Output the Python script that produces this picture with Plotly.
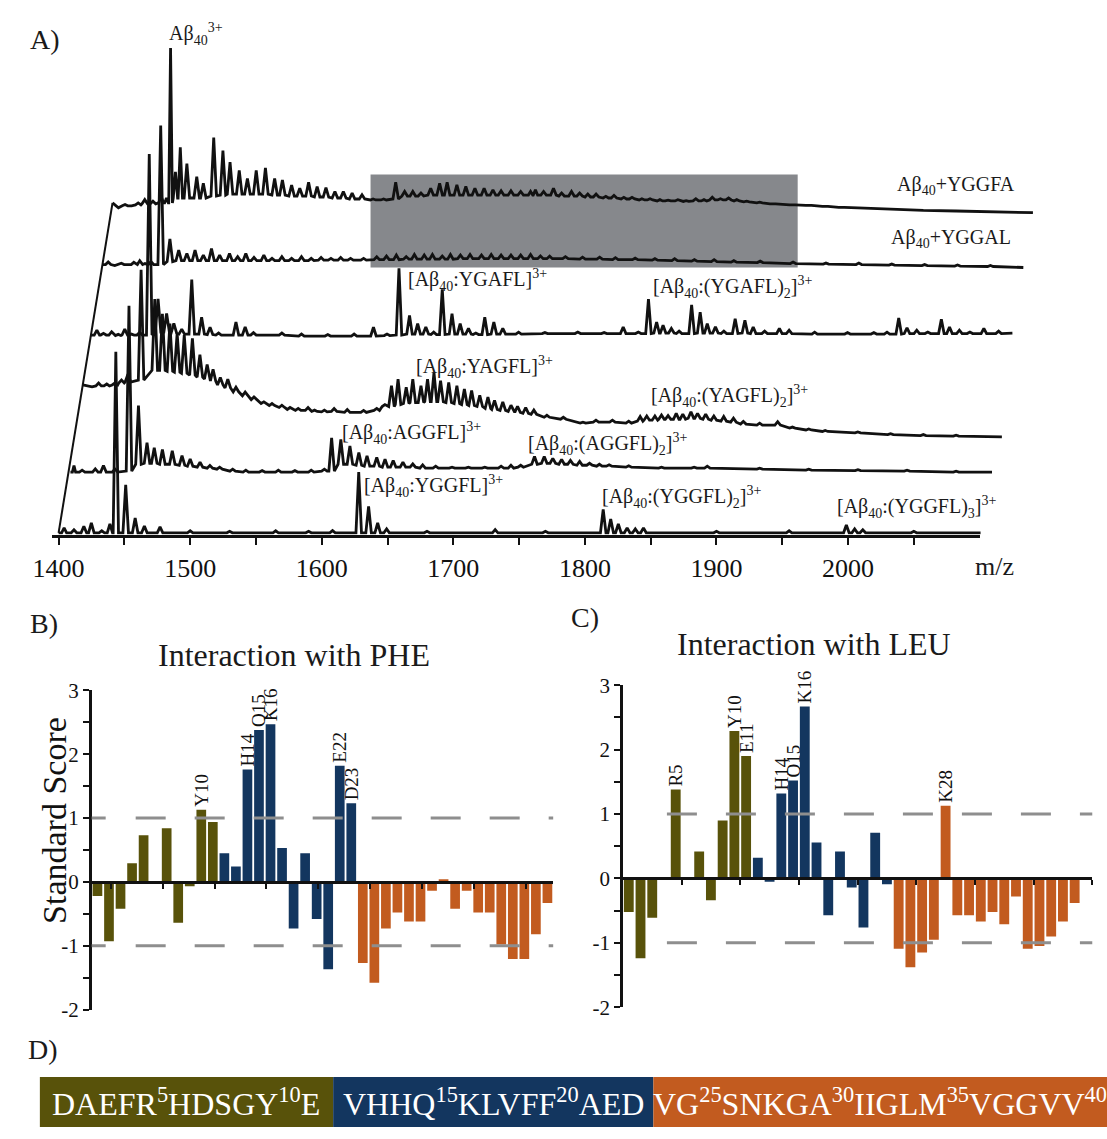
import plotly.graph_objects as go

W, H = 1107, 1139
FONT = "Liberation Serif"

# ------------------------------------------------------------------
# Panel A data: mass spectra (true m/z, baseline level, peak apex level)
# intensities in arbitrary units (relative to each trace's start level)
# ------------------------------------------------------------------
SPECTRA = ["YGGFL", "AGGFL", "YAGFL", "YGAFL", "YGGAL", "YGGFA"]

YGGFL_MZ = [1400, 1404.2, 1411.7, 1419.2, 1424.9, 1432.8, 1439.0, 1443.5, 1451.0, 1458.2, 1465.2,
            1477.1, 1500, 1530, 1565, 1590, 1608.2, 1628.1, 1635.6, 1642.5, 1649.3, 1680, 1731.8,
            1770, 1813.9, 1819.6, 1825.4, 1832.1, 1838.3, 1844.5, 1900, 1955.2, 1998.7, 2005.0,
            2011.2, 2050, 2100.7]
YGGFL_BASE = [0] * 37
YGGFL_TOP = [0, 5, 3, 6.7, 10, 2, 9, 185, 49, 15, 7, 6, 2, 1.5, 2, 1.5, 2.3, 62, 27, 10, 4, 1.5,
             3.3, 1.5, 24, 14, 9, 5, 4, 5, 1.5, 2, 8, 4, 3, 1.5, 0]

AGGFL_MZ = [1400, 1402.7, 1408.9, 1418.9, 1425.1, 1433.8, 1444.5, 1451.7, 1458.2, 1463.7, 1469.9,
            1477.4, 1484.8, 1491.0, 1498.5, 1506.0, 1513.4, 1523.3, 1533.3, 1545.7, 1558.0, 1570.6,
            1583.0, 1593.0, 1598.5, 1605.5, 1612.4, 1619.2, 1625.4, 1632.8, 1639.1, 1645.3, 1652.7,
            1660.2, 1667.7, 1677.6, 1690.0, 1702.4, 1714.9, 1727.3, 1734.8, 1742.2, 1752.7, 1760.1,
            1766.6, 1773.3, 1780.0, 1787.0, 1794.5, 1802.0, 1809.4, 1824.3, 1849.2, 1874.0, 1884.0,
            1923.8, 1961.1, 1998.5, 2035.8, 2073.1, 2100.4]
AGGFL_BASE = [0, 0, 0, 0, 0, 0, 1, 8, 9, 9, 8, 8, 7, 6, 5, 4, 3, 1, 0, 0, 0, 0, 0, 1, 1, 8, 8, 7,
              6, 6, 5, 5, 5, 5, 4, 4, 4, 4, 4, 4, 4, 5, 8, 9, 9, 8, 8, 7, 7, 6, 6, 5, 4, 4, 4, 3,
              2, 1.5, 1, 0, 0]
AGGFL_TOP = [0, 6.7, 2, 3.3, 6.7, 3, 170, 68, 30, 25, 23, 21.7, 16.7, 13.3, 10, 6.7, 5, 3, 2, 1.5,
             2, 1.5, 2, 3, 35, 33.3, 26.7, 20, 16.7, 15, 13.3, 11.7, 10, 8.3, 7.3, 6, 5, 5, 5, 6,
             7, 7, 16, 16, 14, 13, 12, 11, 9, 8, 7.5, 6.5, 5, 5, 6, 4, 3, 2.5, 2, 1, 0]

YAGFL_MZ = [1400, 1407.0, 1412.0, 1418.2, 1424.4, 1429.4, 1434.3, 1444.3, 1454.7, 1460.5, 1466.2,
            1471.7, 1477.1, 1483.3, 1489.0, 1494.5, 1499.0, 1504.5, 1510.2, 1516.4, 1523.4, 1530.1,
            1537.6, 1543.8, 1551.3, 1557.5, 1563.7, 1571.2, 1576.1, 1583.6, 1591.0, 1601.0, 1613.4,
            1623.4, 1629.6, 1634.6, 1639.6, 1645.8, 1650.8, 1657.0, 1662.0, 1666.9, 1671.9, 1678.1,
            1684.3, 1690.0, 1695.5, 1701.7, 1707.9, 1712.9, 1719.2, 1725.4, 1730.4, 1736.6, 1742.8,
            1752.7, 1765.2, 1780.1, 1790.0, 1802.5, 1814.9, 1823.6, 1828.6, 1834.8, 1839.8, 1844.8,
            1851.0, 1856.0, 1862.2, 1867.2, 1873.4, 1879.6, 1887.1, 1894.5, 1902.0, 1914.4, 1928.1,
            1939.3, 1951.7, 1964.2, 1989.0, 2013.9, 2038.8, 2063.7, 2098.5]
YAGFL_BASE = [0, -2, -1, -1, 0, 2, 3, 5, 15, 15, 14, 13, 12, 10, 8, 6, 4, 0, -3, -7, -11, -15, -19,
              -21, -23, -25, -26, -26, -27, -27.5, -27, -28, -28, -26, -22, -22, -20, -19, -18,
              -18, -17, -17, -17, -18, -19, -20, -21, -22, -24, -25, -26, -27, -28, -29, -30, -33,
              -35, -39, -38, -38, -39, -37, -36, -36, -35, -35, -35, -35, -34, -34, -35, -36, -37,
              -38, -40, -41, -41, -44, -46, -47.5, -49, -50.7, -51.7, -52.3, -53]
YAGFL_TOP = [0, -2, 2, 1, 2, 5, 11, 117.7, 87.7, 72.7, 62.7, 52.7, 51, 47.7, 31, 21, 16, 7.7, 6,
             -2.3, -7.3, -12.3, -17.3, -19, -20.7, -23, -24, -23, -25.7, -25.7, -24, -25, -26, -24,
             -20, -0.7, 6, -2.3, 6, -0.7, 6, 12.7, 4.3, 2.7, -0.7, -4, -5.7, -10.7, -12.3, -15.7,
             -17.3, -20.7, -21.7, -23, -25.7, -31, -33, -38, -36, -36, -37, -32.3, -31.7, -31.7,
             -30.7, -31.3, -29, -29.7, -27.3, -29, -29.7, -31.7, -32.3, -34, -37.3, -39, -37.5,
             -43, -45, -46.5, -48, -49.7, -50.7, -51.3, -53]

YGAFL_MZ = [1400, 1404.5, 1409.5, 1415.7, 1420.7, 1425.7, 1430.7, 1437, 1444.3, 1451.0, 1457.5,
            1463.0, 1469.0, 1476.6, 1484.1, 1490.5, 1497, 1510.2, 1517.2, 1523.5, 1545.1, 1560, 1580,
            1600, 1614.7, 1625, 1634.1, 1642.1, 1648.3, 1654.5, 1660.5, 1667.0, 1674.4, 1680.6,
            1686.9, 1692.5, 1699.3, 1706.2, 1713.0, 1725, 1745, 1770, 1790, 1804.5, 1816, 1823.7,
            1829.9, 1834.8, 1841.1, 1847, 1856.5, 1863.0, 1868.4, 1874.6, 1881, 1889.6, 1897.0,
            1903.3, 1912, 1923.2, 1930.6, 1950, 1975, 1995, 2005, 2013.9, 2020.2, 2027.6, 2036,
            2046.3, 2052.5, 2060.0, 2068, 2078.6, 2089.8, 2100.3]
YGAFL_BASE = [0, 0, 0, 0, -0.5, 0, 0, 0, 0, 3, 3, 2, 1, 1, 1, 0.5, 0, 0, 0, 0, 0, -1, -1, -1, -1,
              -0.5, 0, 1, 1, 1, 0.5, 0.5, 1, 1, 1, 0.5, 0.5, 1, 1, 1, 1.5, 1.5, 1.5, 1.5, 1.5, 1.5,
              2, 2, 2, 1.5, 1.5, 2, 2, 2, 1.5, 1.5, 2, 1.5, 1.5, 1.5, 1.5, 1, 1, 1, 1, 1, 1.5, 1.5,
              1.5, 1.5, 1.5, 1.5, 1.5, 1.5, 1.5, 2]
YGAFL_TOP = [0, 5, 1.7, 3.3, 0.7, 6, 1, 2.7, 185, 37, 22, 12, 6, 56.7, 18.3, 8, 2, 13.3, 8.3, 2.5,
             2, 1, 0.5, 1, 8, 1, 68.3, 20, 11.7, 8.3, 3, 46.7, 21.7, 11.7, 6.7, 2, 18.3, 13.3, 6.7,
             3, 2.5, 3, 2.5, 8.3, 3, 36.7, 13.3, 10, 6.7, 4, 30.7, 23.3, 11.7, 8.3, 4, 16.7, 15,
             8.3, 4, 6.7, 5, 3, 2.5, 2.5, 3, 17.3, 7.3, 5, 3, 16, 8.3, 5, 3, 6.7, 4, 2]

YGGAL_MZ = [1400, 1404.5, 1409.5, 1414.5, 1419.5, 1424, 1428.5, 1432.5, 1437, 1444.4, 1451.4,
            1458.1, 1464.3, 1470.5, 1476.8, 1483.0, 1489.2, 1496.7, 1502.9, 1509.1, 1515.3, 1522.8,
            1529.0, 1536.5, 1543.9, 1551.4, 1558.8, 1566.3, 1573.8, 1581.2, 1588.7, 1598.6, 1608.6,
            1616.0, 1623.5, 1631.0, 1637.2, 1644.7, 1650.9, 1658.4, 1664.6, 1672.2, 1679.5, 1688.2,
            1695.6, 1703.1, 1710.6, 1718.0, 1725.5, 1733.0, 1740, 1752, 1765, 1778, 1790, 1805,
            1820, 1835, 1850, 1865, 1880, 1900, 1925, 1950, 1975, 2000, 2025, 2050, 2075, 2100]
YGGAL_BASE = [0, 0, -1, 0, 0, 0, 0, 0, 0, 0, 3, 4, 4, 4, 4, 4, 4, 4, 4, 4, 4, 4, 4, 4, 4, 4, 4,
              4.5, 4.5, 4.5, 4.5, 4.5, 5, 5, 5, 5.5, 5.5, 5.5, 5.5, 5.5, 5.5, 6, 6, 6, 6, 6, 6, 6,
              6, 6, 6, 6, 5.5, 5.5, 5, 5, 4.5, 4, 3.5, 3, 2.5, 2, 1, 0.5, 0, -0.5, -1, -1.5, -2,
              -3]
YGGAL_TOP = [0, 2.7, -1, 1.3, 0.7, 2.3, 4, 1, 3, 142, 26.3, 14.7, 11.3, 14.7, 9.7, 16.3, 9.7, 11.3,
             8, 11.3, 7.3, 9.7, 6.3, 8, 6.3, 8, 6.3, 7.3, 6.3, 7.3, 6.3, 6.3, 8, 8.7, 9.7, 8, 10.3,
             9.7, 10.3, 8.7, 10.3, 9.7, 10.3, 9.7, 10.3, 9.7, 9.7, 9.7, 10.3, 8.7, 8.5, 8, 7.5, 7.5,
             7, 6.5, 6, 6, 5, 5, 4, 3.5, 2.5, 1.5, 1.5, 0.5, 0, -0.5, -1, -3]

YGGFA_MZ = [1400, 1404.5, 1409.5, 1414.5, 1419.5, 1424.5, 1430.7, 1436.9, 1441, 1444.1, 1447.8,
            1451.5, 1456.5, 1464.0, 1469.0, 1476.9, 1483.9, 1489.3, 1496.3, 1502.5, 1509.2, 1516.2,
            1523.2, 1529.1, 1536.1, 1542.3, 1549.0, 1555.5, 1562.2, 1569.0, 1575.4, 1582.1, 1589.6,
            1598, 1606, 1615.2, 1622.0, 1628.2, 1634.4, 1641.8, 1648.6, 1654.3, 1661.7, 1668.5,
            1675.4, 1682.4, 1689.1, 1695.3, 1702.8, 1710.2, 1717.7, 1721.4, 1727.6, 1735.1, 1741.3,
            1748.8, 1755.0, 1761.2, 1767.5, 1774.9, 1781.1, 1788.6, 1794.8, 1802.3, 1808.5, 1816.0,
            1822.2, 1829.6, 1835.9, 1843.3, 1849.5, 1855.8, 1862.0, 1868.2, 1874.4, 1881.9, 1891.8,
            1901.8, 1916.7, 1929.1, 1941.6, 1954.0, 1966.5, 1991.3, 2016.2, 2041.1, 2066.0, 2099.5]
YGGFA_BASE = [0, -5, -3, -3, -2, -1, -1, 0, 0, 0, 5, 5, 5, 5, 5, 7, 8, 9, 9, 9, 9, 9, 8, 8, 7, 7,
              7, 6, 6, 5, 5, 4, 4, 3, 3, 4, 7, 7, 7, 8, 8, 8, 8, 8, 8, 8, 8, 8, 8, 8, 8, 8, 8, 8, 7,
              7, 7, 6, 6, 5, 5, 4, 4, 3, 3, 2, 2, 2, 1.5, 2, 2, 3, 3, 3, 2, 1, 0, -1, -2, -2.5,
              -3.5, -4.5, -5, -6.7, -7.7, -8.3, -9.3, -10]
YGGFA_TOP = [0, -5, -1.7, -3, 0, 3.3, 1.7, 6.7, 5, 158.3, 31.7, 56.7, 40, 26.7, 20, 66.7, 53.3,
             41.7, 33.3, 25, 33.3, 35.7, 25, 23.3, 18.3, 15, 21, 16.7, 15.7, 11.7, 11.7, 10, 8.3,
             4, 4, 21, 11.7, 11.7, 10, 15, 20, 21, 18.3, 16.7, 15, 15, 13.3, 12.3, 12.3, 11.7, 11.7,
             13.3, 11.7, 15, 10, 11.7, 10, 9, 9, 6.7, 7.7, 5.7, 5.7, 4.3, 4.3, 3.3, 2.7, 3.3, 2.3,
             4.3, 3.3, 5.7, 4.3, 5, 3.3, 1.7, 0.7, -0.7, -1.7, -2.3, -3.3, -4.3, -5, -6.7, -7.7,
             -8.3, -9.3, -10]

SPEC_DATA = {
    "YGGFL": (YGGFL_MZ, YGGFL_BASE, YGGFL_TOP),
    "AGGFL": (AGGFL_MZ, AGGFL_BASE, AGGFL_TOP),
    "YAGFL": (YAGFL_MZ, YAGFL_BASE, YAGFL_TOP),
    "YGAFL": (YGAFL_MZ, YGAFL_BASE, YGAFL_TOP),
    "YGGAL": (YGGAL_MZ, YGGAL_BASE, YGGAL_TOP),
    "YGGFA": (YGGFA_MZ, YGGFA_BASE, YGGFA_TOP),
}

MZ_TICKS = [1400, 1450, 1500, 1550, 1600, 1650, 1700, 1750, 1800, 1850, 1900, 1950, 2000, 2050]

# ------------------------------------------------------------------
# Panels B/C data: standard scores per residue of Abeta40
# ------------------------------------------------------------------
SEQUENCE = "DAEFRHDSGYEVHHQKLVFFAEDVGSNKGAIIGLMVGGVV"
REGION_SIZES = [11, 12, 17]
REGION_COLORS = ["#58520a", "#13365f", "#c25b1f"]

PHE_SCORES = [-0.22, -0.93, -0.42, 0.29, 0.73, 0.0, 0.84, -0.64, -0.07, 1.13,
              0.94, 0.45, 0.24, 1.76, 2.38, 2.47, 0.53, -0.73, 0.45, -0.58,
              -1.37, 1.82, 1.23, -1.27, -1.58, -0.73, -0.48, -0.62, -0.62, -0.14,
              0.04, -0.42, -0.14, -0.48, -0.48, -0.98, -1.21, -1.21, -0.82, -0.33]
LEU_SCORES = [-0.52, -1.24, -0.61, 0.0, 1.38, 0.0, 0.42, -0.34, 0.90, 2.29,
              1.90, 0.32, -0.05, 1.32, 1.52, 2.67, 0.56, -0.57, 0.42, -0.14,
              -0.76, 0.71, -0.09, -1.09, -1.38, -1.15, -0.95, 1.13, -0.57, -0.57,
              -0.67, -0.52, -0.71, -0.28, -1.09, -1.05, -0.90, -0.67, -0.38, 0.0]
PHE_LABELLED = [10, 14, 15, 16, 22, 23]
LEU_LABELLED = [5, 10, 11, 14, 15, 16, 28]
SCORE_TICKS = [-2, -1.5, -1, -0.5, 0, 0.5, 1, 1.5, 2, 2.5, 3]

# ------------------------------------------------------------------
# layout constants (pixels)
# ------------------------------------------------------------------
PX_PER_MZ = 1.34
X1400_PX = 39.3
A_AXIS_PX = 534
SPEC_SHIFT_MZ = [0, 9.0, 18.4, 24.6, 33.2, 41.0]
SPEC_OFFSET = [2, 64, 153, 204, 276, 339]
PEAK_HW = 2.1


def mz_at_px(px):
    return 1400 + (px - X1400_PX) / PX_PER_MZ


def px2x(px):
    return px / W


def px2y(py):
    return 1 - py / H


fig = go.Figure()

# ---------------- Panel A ----------------
starts = []
for i, name in enumerate(SPECTRA):
    mzs, bases, tops = SPEC_DATA[name]
    sh, off = SPEC_SHIFT_MZ[i], SPEC_OFFSET[i]
    xs, ys = [], []
    n = len(mzs)
    for k, (m, b, t) in enumerate(zip(mzs, bases, tops)):
        if t == b:
            xs.append(m + sh)
            ys.append(off + b)
            continue
        gl = (m - mzs[k - 1]) if k > 0 else PEAK_HW * 3
        gr = (mzs[k + 1] - m) if k < n - 1 else PEAK_HW * 3
        hw = min(PEAK_HW, 0.45 * gl, 0.45 * gr)
        xs += [m - hw + sh, m + sh, m + hw + sh]
        ys += [off + b, off + t, off + b]
    starts.append((xs[0], ys[0]))
    fig.add_trace(go.Scatter(x=xs, y=ys, mode="lines", xaxis="x", yaxis="y",
                             line=dict(color="#111111", width=2.8), hoverinfo="skip",
                             showlegend=False))

# perspective edge joining the first points of bottom and top spectra
fig.add_trace(go.Scatter(x=[starts[0][0], starts[-1][0]], y=[starts[0][1], starts[-1][1]],
                         mode="lines", xaxis="x", yaxis="y",
                         line=dict(color="#111111", width=2), hoverinfo="skip",
                         showlegend=False))
# invisible anchor for the m/z tick axis
fig.add_trace(go.Scatter(x=[1400], y=[0], mode="markers", xaxis="x5", yaxis="y",
                         marker=dict(opacity=0), hoverinfo="skip", showlegend=False))

# ---------------- Panels B & C ----------------
colors = []
for size, col in zip(REGION_SIZES, REGION_COLORS):
    colors += [col] * size
resid = list(range(1, len(SEQUENCE) + 1))


def bar_texts(labelled):
    return [(SEQUENCE[r - 1] + str(r)) if r in labelled else "" for r in resid]


for scores, lab, xa, ya in [(PHE_SCORES, PHE_LABELLED, "x2", "y2"),
                            (LEU_SCORES, LEU_LABELLED, "x3", "y3")]:
    fig.add_trace(go.Bar(x=resid, y=scores, xaxis=xa, yaxis=ya, width=0.84,
                         marker=dict(color=colors, line=dict(width=0)),
                         text=bar_texts(lab), textposition="outside", textangle=-90,
                         textfont=dict(family=FONT, size=19, color="#111111"),
                         constraintext="none", cliponaxis=False, hoverinfo="skip",
                         showlegend=False))

# ---------------- Panel D ----------------
bases_d, cum = [], 0
for s in REGION_SIZES:
    bases_d.append(cum)
    cum += s
fig.add_trace(go.Bar(x=REGION_SIZES, base=bases_d, y=[0, 0, 0], orientation="h",
                     xaxis="x4", yaxis="y4", width=1,
                     marker=dict(color=REGION_COLORS, line=dict(width=0)),
                     hoverinfo="skip", showlegend=False))


def seq_text(start, stop):
    out = ""
    for r in range(start, stop + 1):
        out += SEQUENCE[r - 1]
        if r % 5 == 0:
            out += "<sup>%d</sup>" % r
    return out


annotations = []
for b, s in zip(bases_d, REGION_SIZES):
    annotations.append(dict(text=seq_text(b + 1, b + s), x=b + s / 2, y=0, xref="x4", yref="y4",
                            showarrow=False, xanchor="center", yanchor="middle",
                            font=dict(family=FONT, size=32, color="white")))


def ann(text, x, y, size, xanchor="left", yanchor="middle", angle=0, color="#1a1a1a"):
    annotations.append(dict(text=text, x=px2x(x), y=px2y(y), xref="paper", yref="paper",
                            showarrow=False, xanchor=xanchor, yanchor=yanchor, textangle=angle,
                            font=dict(family=FONT, size=size, color=color)))


# panel letters
ann("A)", 8, 28, 28)
ann("B)", 8, 625, 28)
ann("C)", 559, 619, 28)
ann("D)", 6, 1060, 28)

# panel A labels
ann("Aβ<sub>40</sub><sup>3+</sup>", 150, 22, 20)
ann("Aβ<sub>40</sub>+YGGFA", 891, 177, 20)
ann("Aβ<sub>40</sub>+YGGAL", 885, 231, 20)
ann("[Aβ<sub>40</sub>:YGAFL]<sup>3+</sup>", 393, 274, 20)
ann("[Aβ<sub>40</sub>:(YGAFL)<sub>2</sub>]<sup>3+</sup>", 643, 281, 20)
ann("[Aβ<sub>40</sub>:YAGFL]<sup>3+</sup>", 401, 363, 20)
ann("[Aβ<sub>40</sub>:(YAGFL)<sub>2</sub>]<sup>3+</sup>", 641, 392, 20)
ann("[Aβ<sub>40</sub>:AGGFL]<sup>3+</sup>", 326, 430, 20)
ann("[Aβ<sub>40</sub>:(AGGFL)<sub>2</sub>]<sup>3+</sup>", 515, 441, 20)
ann("[Aβ<sub>40</sub>:YGGFL]<sup>3+</sup>", 348, 484, 20)
ann("[Aβ<sub>40</sub>:(YGGFL)<sub>2</sub>]<sup>3+</sup>", 591, 495, 20)
ann("[Aβ<sub>40</sub>:(YGGFL)<sub>3</sub>]<sup>3+</sup>", 830, 506, 20)
ann("m/z", 992, 566, 26, xanchor="center")

# panels B/C titles and y title
ann("Interaction with PHE", 279, 657, 32, xanchor="center")
ann("Interaction with LEU", 809, 646, 32, xanchor="center")
ann("Standard Score", 35, 826, 34, xanchor="center", angle=-90, color="#111111")

# ---------------- shapes ----------------
shapes = [dict(type="rect", xref="x", yref="y", x0=mz_at_px(357), x1=mz_at_px(792),
               y0=A_AXIS_PX - 261, y1=A_AXIS_PX - 166, fillcolor="#86888c",
               line=dict(width=0), layer="below")]
DASH_B = "14px,30px,30px,29px,30px,29px,30px,29px,30px,29px,30px,29px,30px,29px,30px,29px,30px"
DASH_C = "0px,44px,30px,29px,30px,29px,30px,29px,30px,29px,30px,29px,30px,29px,30px,29px,30px"
for xa, ya, dash in [("x2", "y2", DASH_B), ("x3", "y3", DASH_C)]:
    for lvl in (1, -1):
        shapes.append(dict(type="line", xref=xa + " domain", yref=ya, x0=0, x1=1, y0=lvl, y1=lvl,
                           line=dict(color="#8e8e8e", width=3, dash=dash), layer="above"))

# ---------------- axes ----------------
A_DOM_Y = [px2y(A_AXIS_PX), 1]


def score_axis(dom_px, anchor):
    return dict(domain=[px2y(dom_px[1]), px2y(dom_px[0])], range=[-2, 3], anchor=anchor,
                showline=True, linecolor="#111111", linewidth=2.5, ticks="outside", ticklen=6,
                tickwidth=2, tickcolor="#111111", tickvals=SCORE_TICKS,
                ticktext=[("%d" % v) if v == int(v) else "" for v in SCORE_TICKS],
                tickfont=dict(family=FONT, size=21, color="#111111"), showgrid=False,
                zeroline=False)


def zero_position(dom_px):
    lo, hi = px2y(dom_px[1]), px2y(dom_px[0])
    return lo + (0 - (-2)) / 5 * (hi - lo)


B_DOM_Y = (693, 1019)
C_DOM_Y = (687.7, 1016.7)
B_TICKS = [2.2, 6.7, 11.2, 15.6, 20.1, 24.6, 29.1, 33.6, 38.1]
C_TICKS = [5.5, 10.5, 15.5, 20.5, 25.5, 30.5, 35.5, 40.5]


def cat_axis(dom_px, ticks, ypos):
    return dict(domain=[px2x(dom_px[0]), px2x(dom_px[1])], range=[0.5, 40.5], anchor="free",
                position=ypos, showline=True, linecolor="#111111", linewidth=2.5,
                ticks="outside", ticklen=5, tickwidth=2, tickcolor="#111111", tickvals=ticks,
                showticklabels=False, showgrid=False, zeroline=False)


fig.update_layout(
    width=W, height=H, margin=dict(l=0, r=0, t=0, b=0),
    paper_bgcolor="white", plot_bgcolor="rgba(0,0,0,0)", showlegend=False,
    xaxis=dict(domain=[0, 1], range=[mz_at_px(0), mz_at_px(W)], anchor="y", visible=False),
    yaxis=dict(domain=A_DOM_Y, range=[0, A_AXIS_PX], anchor="x", visible=False),
    xaxis5=dict(domain=[px2x(33), px2x(978)], range=[mz_at_px(33), mz_at_px(978)], anchor="y",
                showline=True, linecolor="#111111", linewidth=2.5, ticks="outside", ticklen=8,
                tickwidth=2, tickcolor="#111111", tickvals=MZ_TICKS,
                ticktext=[str(v) if v % 100 == 0 else "" for v in MZ_TICKS],
                tickfont=dict(family=FONT, size=26, color="#111111"), showgrid=False,
                zeroline=False),
    xaxis2=cat_axis((73, 543), B_TICKS, zero_position(B_DOM_Y)),
    yaxis2=score_axis(B_DOM_Y, "x2"),
    xaxis3=cat_axis((614, 1092), C_TICKS, zero_position(C_DOM_Y)),
    yaxis3=score_axis(C_DOM_Y, "x3"),
    xaxis4=dict(domain=[px2x(20), 1], range=[0, sum(REGION_SIZES)], anchor="y4", visible=False),
    yaxis4=dict(domain=[0, px2y(1088)], range=[-0.5, 0.5], anchor="x4", visible=False),
    barmode="overlay",
    annotations=annotations,
    shapes=shapes,
)

fig.write_html("out.html", config={"displayModeBar": False},
               post_script="document.body.style.margin='0px';")
